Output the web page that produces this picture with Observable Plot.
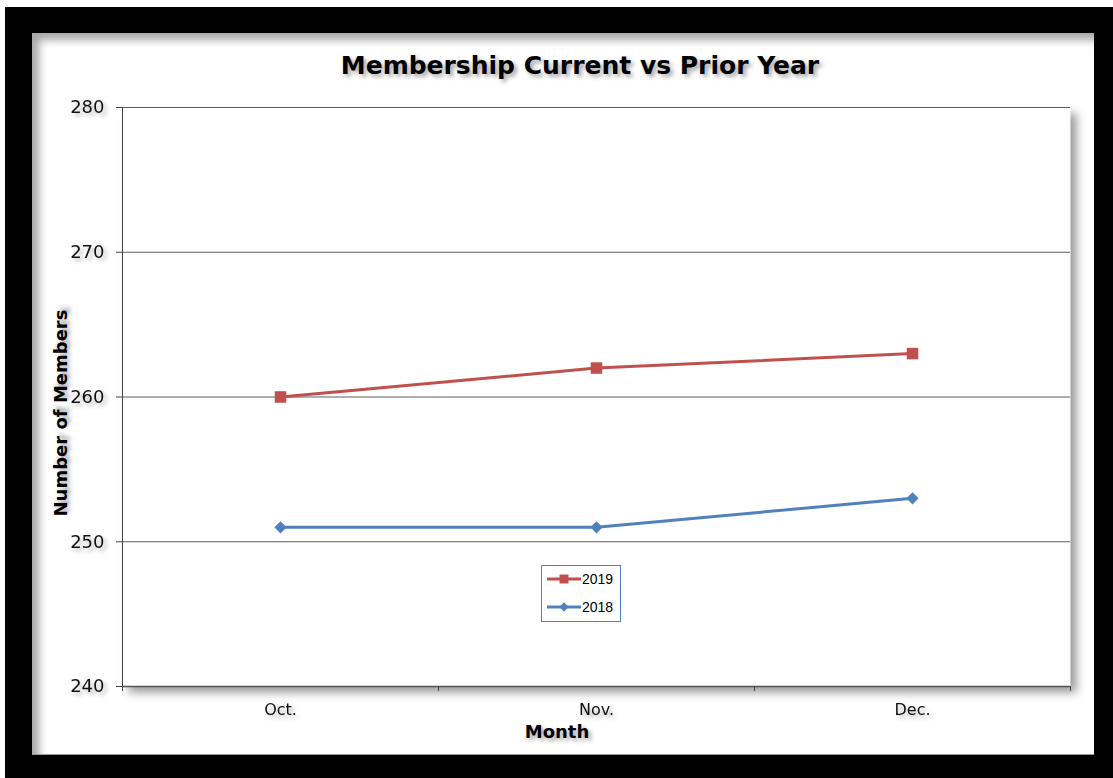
<!DOCTYPE html>
<html>
<head>
<meta charset="utf-8">
<script src="https://cdn.jsdelivr.net/npm/d3@7"></script>
<script src="https://cdn.jsdelivr.net/npm/@observablehq/plot@0.6"></script>
<style>
  html, body { margin: 0; padding: 0; background: #fff; width: 1113px; height: 778px; overflow: hidden; }
  #outer { position: absolute; left: 5px; top: 7px; width: 1108px; height: 771px; background: #000; }
  #inner { position: absolute; left: 32px; top: 33px; width: 1062px; height: 722px; background: #fff;
           box-shadow: inset 7px 7px 8px rgba(0,0,0,0.35); border-bottom: 1px solid #999; box-sizing: border-box; }
  #chart { position: absolute; left: 0; top: 0; }
  #chart svg { background: transparent !important; overflow: visible; }
  .lbl { position: absolute; font-family: "DejaVu Sans", Verdana, sans-serif; font-weight: bold; color: #000;
         text-shadow: 3px 3px 4px rgba(0,0,0,0.35); white-space: nowrap; }
  #title { left: 0; width: 1160px; text-align: center; top: 51px; font-size: 25px; }
  #xlabel { left: 507px; width: 100px; text-align: center; top: 721px; font-size: 18px; }
  #ylabel { left: 60px; top: 413px; font-size: 18px; transform: translate(-50%, -50%) rotate(-90deg); }
  [aria-label="plotbg"] { filter: drop-shadow(6px 6px 5px rgba(0,0,0,0.4)); }
  [aria-label="y-axis tick label"], [aria-label="x-axis tick label"] { filter: drop-shadow(3px 3px 2px rgba(0,0,0,0.3)); }
  #legend { position: absolute; left: 541px; top: 565px; width: 80px; height: 57px; box-sizing: border-box;
            border: 1px solid #4F81BD; background: #fff; font-family: "Liberation Sans", Arial, sans-serif; font-size: 14px; }
</style>
</head>
<body>
<div id="outer"></div>
<div id="inner"></div>
<div id="chart"></div>
<div id="title" class="lbl">Membership Current vs Prior Year</div>
<div id="ylabel" class="lbl">Number of Members</div>
<div id="xlabel" class="lbl">Month</div>
<div id="legend"></div>
<script>
const months = ["Oct.", "Nov.", "Dec."];
const members2019 = [260, 262, 263];
const members2018 = [251, 251, 253];
const yTicks = [240, 250, 260, 270, 280];
const seriesNames = ["2019", "2018"];
const seriesColors = ["#C0504D", "#4F81BD"];

const rows = [];
months.forEach((m, i) => {
  rows.push({i, month: m, series: "2019", value: members2019[i]});
  rows.push({i, month: m, series: "2018", value: members2018[i]});
});
const boundaries = d3.range(-0.5, months.length, 1);

const plot = Plot.plot({
  width: 1113,
  height: 778,
  marginLeft: 122,
  marginRight: 43,
  marginTop: 107,
  marginBottom: 92,
  style: {background: "transparent", overflow: "visible"},
  x: {type: "linear", domain: [-0.5, months.length - 0.5]},
  y: {domain: [240, 280]},
  color: {domain: seriesNames, range: seriesColors},
  marks: [
    Plot.frame({fill: "white", stroke: null, ariaLabel: "plotbg"}),
    Plot.ruleY(yTicks, {stroke: "#5e5e5e", strokeWidth: 1}),
    Plot.frame({anchor: "left", stroke: "#444"}),
    Plot.ruleY([240], {stroke: "#555", strokeWidth: 1.5}),
    Plot.axisY({ticks: yTicks, tickSize: 6, tickPadding: 12, label: null, fontSize: 18,
                fontFamily: "DejaVu Sans", fill: "#111", stroke: "#444"}),
    Plot.axisX({ticks: boundaries, tickSize: 5, tickFormat: () => "", label: null, stroke: "#444"}),
    Plot.axisX({ticks: d3.range(months.length), tickSize: 0, tickPadding: 17, tickFormat: i => months[i],
                label: null, fontSize: 16, fontFamily: "DejaVu Sans", fill: "#111"}),
    Plot.line(rows, {x: "i", y: "value", stroke: "series", z: "series", strokeWidth: 3}),
    Plot.dot(rows.filter(d => d.series === "2019"), {x: "i", y: "value", fill: "series", symbol: "square", r: 6.5, stroke: null}),
    Plot.dot(rows.filter(d => d.series === "2018"), {x: "i", y: "value", fill: "series", symbol: "diamond2", r: 5.5, stroke: null})
  ]
});
document.getElementById("chart").appendChild(plot);

// legend
const leg = d3.select("#legend");
const symbols = [d3.symbolSquare, d3.symbolDiamond2];
const sizes = [80, 55];
seriesNames.forEach((s, k) => {
  const row = leg.append("div").style("position", "absolute").style("left", "5px").style("top", (4 + k * 28) + "px")
    .style("display", "flex").style("align-items", "center").style("height", "18px");
  const svg = row.append("svg").attr("width", 34).attr("height", 18);
  svg.append("line").attr("x1", 0).attr("x2", 34).attr("y1", 9).attr("y2", 9)
    .attr("stroke", seriesColors[k]).attr("stroke-width", 3);
  svg.append("path").attr("transform", "translate(17,9)").attr("d", d3.symbol(symbols[k], sizes[k])())
    .attr("fill", seriesColors[k]);
  row.append("span").text(s).style("margin-left", "1px");
});
</script>
</body>
</html>
